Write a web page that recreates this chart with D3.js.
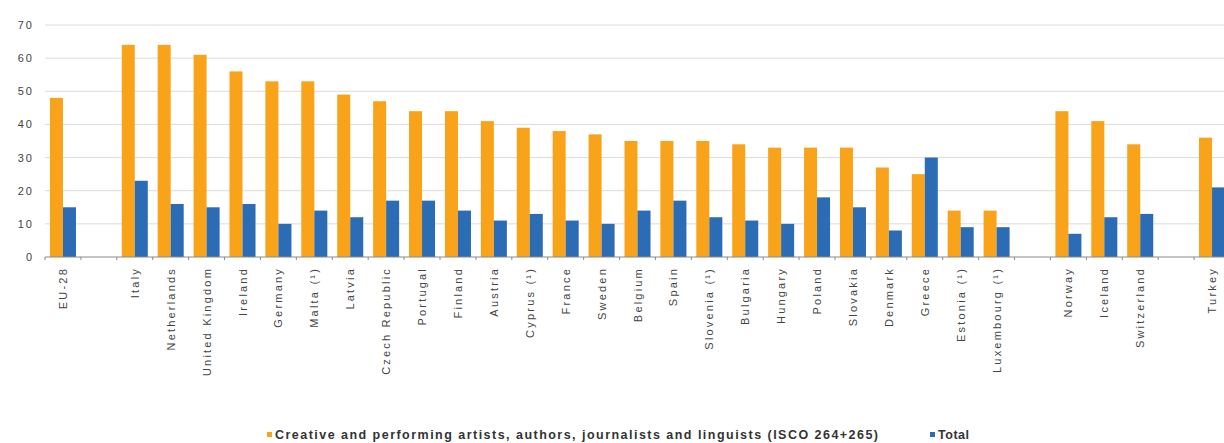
<!DOCTYPE html>
<html>
<head>
<meta charset="utf-8">
<script src="https://cdn.jsdelivr.net/npm/d3@7"></script>
<style>
  body { margin: 0; background: #fff; }
  svg { display: block; font-family: "Liberation Sans", Arial, sans-serif; }
</style>
</head>
<body>
<div id="chartArea"></div>
<script>
// categories ("" = empty slot between groups)
var categories = ["EU-28", "", "Italy", "Netherlands", "United Kingdom", "Ireland", "Germany",
    "Malta (\u00b9)", "Latvia", "Czech Republic", "Portugal", "Finland", "Austria", "Cyprus (\u00b9)",
    "France", "Sweden", "Belgium", "Spain", "Slovenia (\u00b9)", "Bulgaria", "Hungary", "Poland",
    "Slovakia", "Denmark", "Greece", "Estonia (\u00b9)", "Luxembourg (\u00b9)", "", "Norway",
    "Iceland", "Switzerland", "", "Turkey"];

var creative = [48, null, 64, 64, 61, 56, 53, 53, 49, 47, 44, 44, 41, 39, 38, 37, 35, 35, 35,
    34, 33, 33, 33, 27, 25, 14, 14, null, 44, 41, 34, null, 36];

var total = [15, null, 23, 16, 15, 16, 10, 14, 12, 17, 17, 14, 11, 13, 11, 10, 14, 17, 12,
    11, 10, 18, 15, 8, 30, 9, 9, null, 7, 12, 13, null, 21];

var yTicks = [0, 10, 20, 30, 40, 50, 60, 70];

var seriesNames = ["Creative and performing artists, authors, journalists and linguists (ISCO 264+265)", "Total"];
var seriesColors = ["#f9a31b", "#2b6cb4"];

var W = 1224, H = 443;
var svg = d3.select("#chartArea").append("svg").attr("width", W).attr("height", H);

var x = d3.scaleBand().domain(d3.range(categories.length)).range([45, 1230]);
var x1 = d3.scaleBand().domain([0, 1]).range([0, x.bandwidth()]).paddingOuter(0.38);
var y = d3.scaleLinear().domain([0, 70]).range([257, 25]);

// gridlines
svg.append("g").selectAll("line")
    .data(yTicks.filter(function(d) { return d > 0; }))
    .enter().append("line")
    .attr("x1", 45).attr("x2", W)
    .attr("y1", function(d) { return y(d); })
    .attr("y2", function(d) { return y(d); })
    .style("stroke", "#dcdcdc").style("stroke-width", 1);

// y axis labels
var yAxis = svg.append("g")
    .attr("transform", "translate(34,0)")
    .call(d3.axisLeft(y).tickValues(yTicks).tickSize(0).tickPadding(0));
yAxis.select(".domain").remove();
yAxis.selectAll("text")
    .style("font-size", "11px")
    .style("letter-spacing", "2px")
    .style("fill", "#444");

// bars
var groups = [creative, total];
groups.forEach(function(vals, s) {
    svg.append("g").selectAll("rect")
        .data(vals.map(function(v, i) { return {i: i, v: v}; }).filter(function(d) { return d.v !== null; }))
        .enter().append("rect")
        .attr("x", function(d) { return x(d.i) + x1(s); })
        .attr("width", x1.bandwidth())
        .attr("y", function(d) { return y(d.v); })
        .attr("height", function(d) { return y(0) - y(d.v); })
        .style("fill", seriesColors[s]);
});

// x axis line + boundary ticks
svg.append("line")
    .attr("x1", 45).attr("x2", W)
    .attr("y1", y(0)).attr("y2", y(0))
    .style("stroke", "#8a8a8a").style("stroke-width", 1);

svg.append("g").selectAll("line")
    .data(d3.range(categories.length + 1))
    .enter().append("line")
    .attr("x1", function(i) { return 45 + i * x.step(); })
    .attr("x2", function(i) { return 45 + i * x.step(); })
    .attr("y1", y(0)).attr("y2", y(0) + 3)
    .style("stroke", "#8a8a8a");

// category labels (rotated)
svg.append("g").selectAll("text")
    .data(categories.map(function(c, i) { return {i: i, c: c}; }).filter(function(d) { return d.c !== ""; }))
    .enter().append("text")
    .attr("transform", function(d) {
        return "translate(" + (x(d.i) + x.bandwidth() / 2 + 4) + "," + (y(0) + 10) + ") rotate(-90)";
    })
    .attr("text-anchor", "end")
    .style("font-size", "11px")
    .style("letter-spacing", "2.2px")
    .style("fill", "#444")
    .text(function(d) { return d.c; });

// legend
var legendX = [267, 930];
var legendLen = [603, 31];
seriesNames.forEach(function(name, s) {
    svg.append("rect")
        .attr("x", legendX[s]).attr("y", 432)
        .attr("width", 5).attr("height", 5)
        .style("fill", seriesColors[s]);
    svg.append("text")
        .attr("x", legendX[s] + 8).attr("y", 439)
        .attr("textLength", legendLen[s])
        .attr("lengthAdjust", "spacing")
        .style("font-size", "12.5px")
        .style("font-weight", "bold")
        .style("fill", "#333")
        .text(name);
});
</script>
</body>
</html>
